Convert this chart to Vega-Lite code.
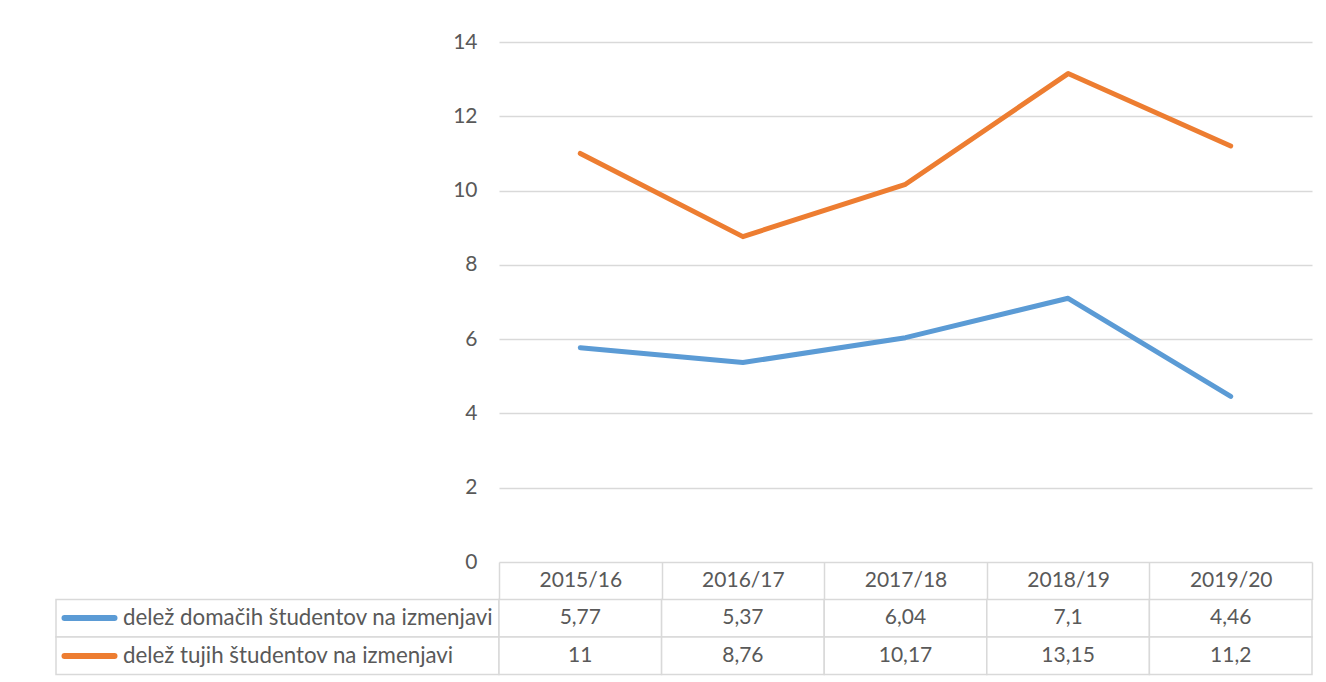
{
  "$schema": "https://vega.github.io/schema/vega-lite/v6.json",
  "background": "white",
  "padding": {"left": 55, "top": 31, "right": 5, "bottom": 5},
  "bounds": "flush",
  "columns": 2,
  "spacing": {"row": 37.5, "column": 0},
  "datasets": {
    "podatki": [
      {"serija": "delež domačih študentov na izmenjavi", "leto": "2015/16", "vrednost": 5.77},
      {"serija": "delež domačih študentov na izmenjavi", "leto": "2016/17", "vrednost": 5.37},
      {"serija": "delež domačih študentov na izmenjavi", "leto": "2017/18", "vrednost": 6.04},
      {"serija": "delež domačih študentov na izmenjavi", "leto": "2018/19", "vrednost": 7.1},
      {"serija": "delež domačih študentov na izmenjavi", "leto": "2019/20", "vrednost": 4.46},
      {"serija": "delež tujih študentov na izmenjavi", "leto": "2015/16", "vrednost": 11},
      {"serija": "delež tujih študentov na izmenjavi", "leto": "2016/17", "vrednost": 8.76},
      {"serija": "delež tujih študentov na izmenjavi", "leto": "2017/18", "vrednost": 10.17},
      {"serija": "delež tujih študentov na izmenjavi", "leto": "2018/19", "vrednost": 13.15},
      {"serija": "delež tujih študentov na izmenjavi", "leto": "2019/20", "vrednost": 11.2}
    ]
  },
  "concat": [
    {
      "width": 443,
      "height": 520,
      "view": {"stroke": null},
      "data": {"values": []},
      "mark": {"type": "text", "text": ""},
      "encoding": {}
    },
    {
      "width": 813,
      "height": 520,
      "view": {"stroke": null},
      "data": {"name": "podatki"},
      "mark": {"type": "line", "strokeWidth": 5, "strokeCap": "round", "strokeJoin": "round"},
      "encoding": {
        "x": {"field": "leto", "type": "ordinal", "scale": {"type": "point", "padding": 0.5}, "axis": null},
        "y": {
          "field": "vrednost", "type": "quantitative",
          "scale": {"domain": [0, 14], "nice": false, "zero": true},
          "axis": {
            "values": [0, 2, 4, 6, 8, 10, 12, 14],
            "title": null, "domain": false, "ticks": false,
            "grid": true, "gridColor": "#d9d9d9", "gridWidth": 1.3,
            "labelFont": "Lato", "labelFontSize": 21, "labelColor": "#595959", "labelPadding": 22
          }
        },
        "color": {
          "field": "serija", "type": "nominal",
          "scale": {"domain": ["delež domačih študentov na izmenjavi", "delež tujih študentov na izmenjavi"], "range": ["#5b9bd5", "#ed7d31"]},
          "legend": null
        }
      }
    },
    {
      "width": 443,
      "height": 75,
      "view": {"stroke": null},
      "data": {"name": "podatki"},
      "transform": [{"filter": "datum.leto === '2015/16'"}],
      "mark": {"type": "rect", "fill": "white", "stroke": "#d9d9d9", "strokeWidth": 1.5},
      "encoding": {
        "y": {
          "field": "serija", "type": "nominal",
          "scale": {"domain": ["delež domačih študentov na izmenjavi", "delež tujih študentov na izmenjavi"], "paddingInner": 0, "paddingOuter": 0},
          "axis": {
            "title": null, "domain": false, "grid": false,
            "offset": -58, "tickSize": 50, "tickWidth": 6, "tickCap": "round",
            "tickColor": {"condition": {"test": "datum.value === 'delež tujih študentov na izmenjavi'", "value": "#ed7d31"}, "value": "#5b9bd5"},
            "labelAlign": "left", "labelBaseline": "middle", "labelPadding": -58.5,
            "labelFont": "Lato", "labelFontSize": 22.3, "labelColor": "#595959", "labelLimit": 0
          }
        }
      }
    },
    {
      "width": 813,
      "height": 75,
      "view": {"stroke": null},
      "data": {"name": "podatki"},
      "encoding": {
        "x": {
          "field": "leto", "type": "ordinal",
          "scale": {"type": "band", "paddingInner": 0, "paddingOuter": 0},
          "axis": {
            "orient": "top", "title": null, "domain": false, "labelAngle": 0,
            "tickBand": "extent", "tickSize": 37.5, "tickWidth": 1.5, "tickColor": "#d9d9d9",
            "labelBaseline": "middle", "labelPadding": -18.75,
            "labelFont": "Lato", "labelFontSize": 21, "labelColor": "#595959"
          }
        },
        "y": {
          "field": "serija", "type": "nominal",
          "scale": {"domain": ["delež domačih študentov na izmenjavi", "delež tujih študentov na izmenjavi"], "paddingInner": 0, "paddingOuter": 0},
          "axis": null
        }
      },
      "layer": [
        {"mark": {"type": "rect", "fill": "white", "stroke": "#d9d9d9", "strokeWidth": 1.5}},
        {
          "mark": {"type": "text", "font": "Lato", "fontSize": 21, "color": "#595959", "baseline": "middle", "align": "center"},
          "encoding": {"text": {"field": "vrednost", "type": "quantitative", "format": "~g"}}
        }
      ]
    }
  ],
  "config": {
    "locale": {"number": {"decimal": ",", "thousands": ".", "grouping": [3], "currency": ["", " €"]}},
    "font": "Lato"
  }
}
